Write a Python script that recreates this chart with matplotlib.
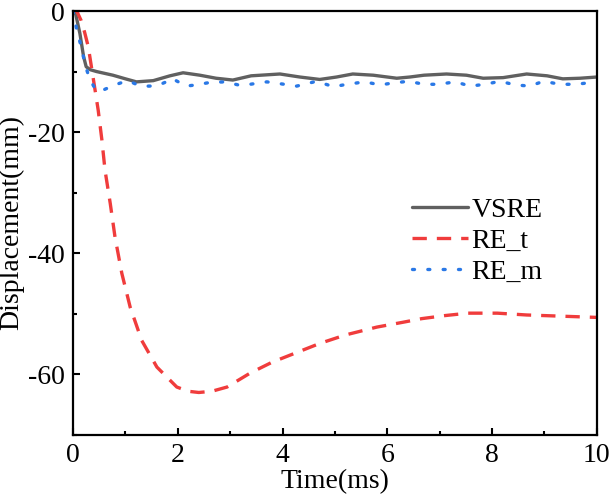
import matplotlib
matplotlib.use("Agg")
import matplotlib.pyplot as plt
from matplotlib.ticker import MultipleLocator

plt.rcParams['font.family'] = ['Liberation Serif', 'DejaVu Serif']
plt.rcParams['axes.unicode_minus'] = False

# ---- data ----
t_vsre = [0, 0.05, 0.13, 0.2, 0.25, 0.33, 0.45, 0.76, 1.0, 1.21, 1.53, 1.85, 2.1, 2.42, 2.73,
          3.05, 3.4, 3.95, 4.33, 4.71, 5.03, 5.34, 5.73, 6.18, 6.43, 6.7, 7.13, 7.51, 7.83,
          8.21, 8.66, 9.05, 9.35, 9.68, 10]
v_vsre = [0, -0.5, -3.7, -7.5, -9.2, -9.7, -10.0, -10.6, -11.2, -11.7, -11.5, -10.7, -10.2,
          -10.6, -11.1, -11.4, -10.7, -10.4, -10.9, -11.3, -10.9, -10.4, -10.6, -11.1, -10.9,
          -10.6, -10.4, -10.6, -11.1, -11.0, -10.4, -10.7, -11.2, -11.1, -10.9]

t_ret = [0, 0.07, 0.15, 0.22, 0.29, 0.39, 0.48, 0.55, 0.61, 0.71, 0.8, 0.93, 1.09, 1.31, 1.6,
         1.98, 2.2, 2.4, 2.65, 2.94, 3.38, 3.8, 4.27, 4.71, 5.2, 5.8, 6.3, 6.66, 7.1, 7.54,
         8.1, 8.66, 9.33, 10]
v_ret = [0, 0, -1.5, -3.5, -5.9, -11.4, -16.4, -21.3, -26.3, -31.8, -37.3, -43.3, -48.9, -54.4,
         -58.8, -62.1, -62.8, -63.0, -62.8, -62.1, -59.8, -58.0, -56.4, -54.9, -53.5, -52.2,
         -51.4, -50.8, -50.3, -49.9, -49.9, -50.2, -50.4, -50.6]

t_rem = [0, 0.07, 0.17, 0.23, 0.32, 0.42, 0.51, 0.64, 0.8, 0.9, 1.05, 1.18, 1.34, 1.46, 1.62,
         1.75, 1.88, 2.16, 2.35, 2.61, 2.9, 3.15, 3.38, 3.7, 3.95, 4.27, 4.65, 4.97, 5.23,
         5.57, 5.86, 6.1, 6.4, 6.7, 6.97, 7.3, 7.58, 7.87, 8.15, 8.44, 8.72, 8.98, 9.3, 9.6,
         9.9, 10]
v_rem = [0, -3.1, -6.4, -8.9, -11.3, -12.8, -13.3, -12.8, -12.2, -11.9, -11.5, -12.0, -12.4,
         -12.4, -12.3, -11.8, -11.1, -12.4, -12.2, -11.8, -11.7, -12.2, -12.1, -11.7, -12.0,
         -12.4, -11.6, -12.5, -12.1, -11.7, -12.2, -11.9, -11.6, -12.1, -12.1, -11.7, -12.4,
         -12.1, -11.6, -12.2, -12.4, -11.6, -12.1, -12.1, -11.8, -11.9]

labels = ['VSRE', 'RE_t', 'RE_m']
colors = ['#606060', '#f03c3c', '#2a78e6']

fig = plt.figure(figsize=(6.09, 5.01), dpi=100)
ax = fig.add_axes([0.12, 0.132, 0.860, 0.846])

ax.plot(t_vsre, v_vsre, color=colors[0], lw=2.4, label=labels[0],
        solid_joinstyle='round', solid_capstyle='round')
ax.plot(t_ret, v_ret, color=colors[1], lw=2.4, ls=(0, (4.3, 3.0)), label=labels[1])
ax.plot(t_rem, v_rem, color=colors[2], lw=2.4, ls=(0, (0.6, 4.0)),
        dash_capstyle='round', label=labels[2])

ax.set_xlim(0, 10)
ax.set_ylim(-70, 0)
ax.xaxis.set_major_locator(MultipleLocator(2))
ax.xaxis.set_minor_locator(MultipleLocator(1))
ax.yaxis.set_major_locator(MultipleLocator(20))
ax.yaxis.set_minor_locator(MultipleLocator(10))
ax.tick_params(which='both', direction='in', labelsize=20, width=1.5, top=False, right=False)
ax.tick_params(which='major', length=5, pad=6)
ax.tick_params(which='minor', length=3)
for s in ax.spines.values():
    s.set_linewidth(1.6)

ax.set_xlabel('Time(ms)', fontsize=20, labelpad=1)
ax.set_ylabel('Displacement(mm)', fontsize=20, labelpad=3)

ax.legend(loc='upper left', bbox_to_anchor=(0.648, 0.561), frameon=False, fontsize=20,
          handlelength=2.0, handletextpad=0.12, labelspacing=0.2, borderpad=0,
          borderaxespad=0)

fig.savefig('out.png', dpi=100)
